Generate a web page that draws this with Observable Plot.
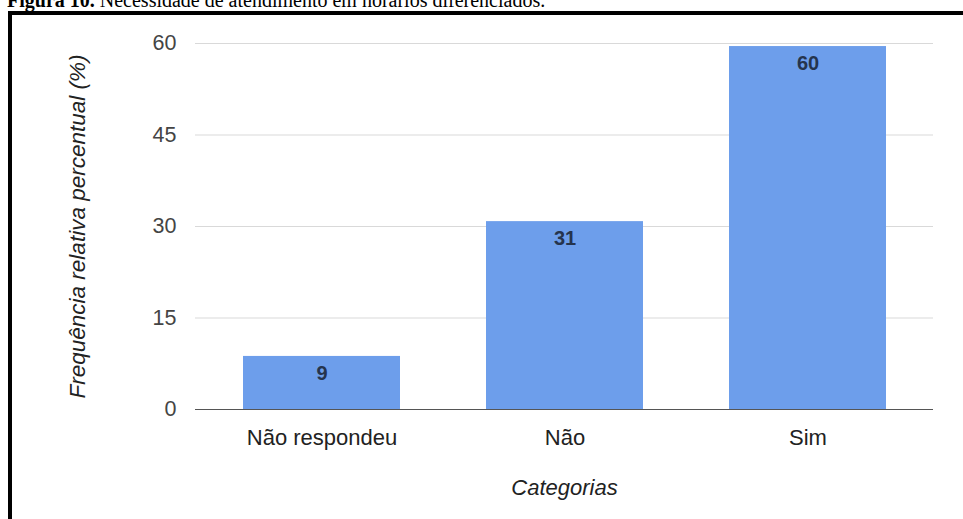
<!DOCTYPE html>
<html>
<head>
<meta charset="utf-8">
<script src="https://cdn.jsdelivr.net/npm/d3@7"></script>
<script src="https://cdn.jsdelivr.net/npm/@observablehq/plot@0.6"></script>
<style>
  html, body { margin: 0; padding: 0; background: #fff; width: 963px; height: 519px; overflow: hidden; }
  #title { position: absolute; left: 7px; top: -10.5px; font-family: "Liberation Serif", "Times New Roman", serif; font-size: 20px; line-height: 1; white-space: nowrap; color: #000; }
  #frame { position: absolute; left: 8px; top: 11px; width: 970px; height: 520px; border-left: 4px solid #000; border-top: 4px solid #000; }
  #chart { position: absolute; left: 15px; top: 15px; }
</style>
</head>
<body>
<div id="title"><b>Figura 10.</b> Necessidade de atendimento em horários diferenciados.</div>
<div id="frame"></div>
<div id="chart"></div>
<script>
const categories = ["Não respondeu", "Não", "Sim"];
const values = [8.7, 30.8, 59.5];
const yTicks = [0, 15, 30, 45, 60];
const yLabel = "Frequência relativa percentual (%)";
const xLabel = "Categorias";

const data = categories.map((c, i) => ({category: c, value: values[i], label: String(Math.round(values[i]))}));

const chart = Plot.plot({
  width: 948,
  height: 504,
  marginLeft: 180,
  marginRight: 30,
  marginTop: 28,
  marginBottom: 110,
  style: {fontFamily: "'Liberation Sans', Arial, sans-serif", fontSize: "21px", color: "#444", background: "transparent"},
  x: {domain: categories, paddingInner: 0.355, paddingOuter: 0.193, label: null},
  y: {domain: [0, 60], label: null},
  marks: [
    Plot.gridY(yTicks.slice(1), {stroke: "#d9d9d9", strokeOpacity: 1}),
    Plot.barY(data, {x: "category", y: "value", fill: "#6d9eeb"}),
    Plot.ruleY([0], {stroke: "#555", strokeWidth: 1}),
    Plot.text(data, {x: "category", y: "value", text: "label", dy: 17, fill: "#25344d", fontWeight: "bold", fontSize: 20}),
    Plot.axisY({ticks: yTicks, tickSize: 0, tickPadding: 19, label: null, fill: "#444", fontSize: 21.5}),
    Plot.axisX({tickSize: 0, tickPadding: 20, label: null, fill: "#222", fontSize: 22}),
    Plot.text([yLabel], {frameAnchor: "left", textAnchor: "middle", dx: -118, rotate: -90, text: d => d, fontStyle: "italic", fontSize: 22.5, fill: "#222"}),
    Plot.text([xLabel], {frameAnchor: "bottom", dy: 85, text: d => d, fontStyle: "italic", fontSize: 22, fill: "#222"})
  ]
});
document.getElementById("chart").appendChild(chart);
</script>
</body>
</html>
